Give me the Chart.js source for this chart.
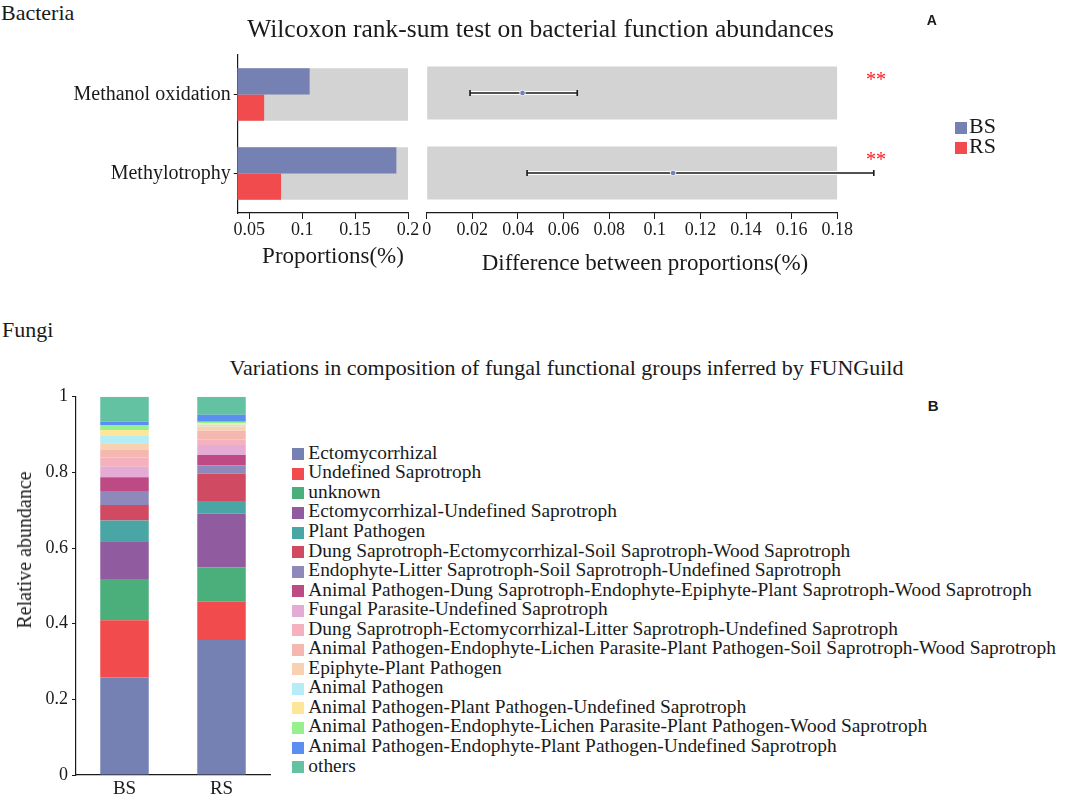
<!DOCTYPE html>
<html>
<head>
<meta charset="utf-8">
<script src="https://cdn.jsdelivr.net/npm/chart.js@4.4.1/dist/chart.umd.min.js"></script>
<style>
  body { margin: 0; background: #fff; }
  #page { position: relative; width: 1084px; height: 795px; overflow: hidden;
          font-family: "Liberation Serif", "Times New Roman", serif; color: #1a1a1a; }
  .box { position: absolute; }
  .t { position: absolute; white-space: nowrap; }
  .sq { position: absolute; width: 12px; height: 12px; box-sizing: border-box; }
</style>
</head>
<body>
<div id="page">
  <div class="box" style="left:0;top:40px;width:420px;height:230px"><canvas id="propChart"></canvas></div>
  <div class="box" style="left:420px;top:40px;width:480px;height:230px"><canvas id="diffChart"></canvas></div>
  <div class="box" style="left:0;top:380px;width:290px;height:415px"><canvas id="guildChart"></canvas></div>
</div>
<script>
// bacteria: STAMP style comparison
const functions = ['Methanol oxidation', 'Methylotrophy'];
const samples = ['BS', 'RS'];
const sampleColors = ['#7580b3', '#f24b4d'];
const propBS = [0.107, 0.189];
const propRS = [0.064, 0.080];
const propTicks = [0.05, 0.1, 0.15, 0.2];
const diffMean = [0.042, 0.108];
const diffLow = [0.019, 0.044];
const diffHigh = [0.066, 0.196];
const diffTicks = [0, 0.02, 0.04, 0.06, 0.08, 0.1, 0.12, 0.14, 0.16, 0.18];
const sigMarks = ['**', '**'];

// fungi: FUNGuild groups
const guilds = [
  'Ectomycorrhizal',
  'Undefined Saprotroph',
  'unknown',
  'Ectomycorrhizal-Undefined Saprotroph',
  'Plant Pathogen',
  'Dung Saprotroph-Ectomycorrhizal-Soil Saprotroph-Wood Saprotroph',
  'Endophyte-Litter Saprotroph-Soil Saprotroph-Undefined Saprotroph',
  'Animal Pathogen-Dung Saprotroph-Endophyte-Epiphyte-Plant Saprotroph-Wood Saprotroph',
  'Fungal Parasite-Undefined Saprotroph',
  'Dung Saprotroph-Ectomycorrhizal-Litter Saprotroph-Undefined Saprotroph',
  'Animal Pathogen-Endophyte-Lichen Parasite-Plant Pathogen-Soil Saprotroph-Wood Saprotroph',
  'Epiphyte-Plant Pathogen',
  'Animal Pathogen',
  'Animal Pathogen-Plant Pathogen-Undefined Saprotroph',
  'Animal Pathogen-Endophyte-Lichen Parasite-Plant Pathogen-Wood Saprotroph',
  'Animal Pathogen-Endophyte-Plant Pathogen-Undefined Saprotroph',
  'others'
];
const guildColors = ['#7580b3', '#f24b4d', '#4aaf7b', '#905b9f', '#4aa5a5', '#d04b62', '#8e88bb',
  '#bd4a85', '#e4acd5', '#f5b1bd', '#f5b8b0', '#f8d2b0', '#b6ecf5', '#fde59a', '#95f08e', '#5a8ef0', '#63c2a2'];
const guildBS = [0.258, 0.151, 0.109, 0.100, 0.055, 0.041, 0.037, 0.036, 0.028, 0.024, 0.020, 0.018, 0.019, 0.016, 0.013, 0.009, 0.066];
const guildRS = [0.357, 0.101, 0.091, 0.142, 0.033, 0.072, 0.022, 0.028, 0.026, 0.015, 0.023, 0.011, 0.005, 0.004, 0.004, 0.018, 0.048];
const abundTicks = [0, 0.2, 0.4, 0.6, 0.8, 1];

Chart.defaults.font.family = '"Liberation Serif", "Times New Roman", serif';
Chart.defaults.color = '#1a1a1a';

const page = document.getElementById('page');
const ink = '#1a1a1a';

// text placed by its baseline
function txt(s, x, base, fs, o = {}) {
  const d = document.createElement('div');
  d.className = 't';
  d.textContent = s;
  const sans = o.sans;
  d.style.fontSize = fs + 'px';
  d.style.lineHeight = fs + 'px';
  if (sans) d.style.fontFamily = '"Liberation Sans", Arial, sans-serif';
  if (o.bold) d.style.fontWeight = 'bold';
  if (o.color) d.style.color = o.color;
  d.style.top = (base - (sans ? 0.8465 : 0.8375) * fs) + 'px';
  d.style.left = x + 'px';
  if (o.center) d.style.transform = 'translateX(-50%)';
  page.appendChild(d);
  return d;
}
function square(x, y, color) {
  const d = document.createElement('div');
  d.className = 'sq';
  d.style.left = x + 'px';
  d.style.top = y + 'px';
  d.style.background = color;
  page.appendChild(d);
}

txt('Bacteria', 1, 20, 22);
txt('Wilcoxon rank-sum test on bacterial function abundances', 540.5, 37, 25.5, { center: true });
txt('A', 926.7, 25, 14, { sans: true, bold: true });
txt('Proportions(%)', 333, 263.3, 23, { center: true });
txt('Difference between proportions(%)', 645, 270.7, 23, { center: true });
sigMarks.forEach((m, i) => txt(m, 866, 85.3 + i * 80, 20, { color: '#ff1a1a' }));
samples.forEach((s, i) => {
  square(954.5, 122 + i * 20.3, sampleColors[i]);
  txt(s, 969, 133.3 + i * 20, 22);
});

txt('Fungi', 2, 337, 22);
txt('Variations in composition of fungal functional groups inferred by FUNGuild', 566.5, 375, 22, { center: true });
txt('B', 927.7, 410.7, 15, { sans: true, bold: true });
const yTitle = txt('Relative abundance', 24, 550, 20);
yTitle.style.top = '540px';
yTitle.style.transform = 'translate(-50%, 0) rotate(-90deg)';
guilds.forEach((g, i) => {
  const base = 459 + i * 19.55;
  square(292.3, base - 10.7, guildColors[i]);
  txt(g, 308.3, base, 19.4);
});

const axisLine = { color: ink, width: 1.2 };

new Chart(document.getElementById('propChart'), {
  type: 'bar',
  data: {
    labels: functions,
    datasets: [
      { label: samples[0], data: propBS, backgroundColor: sampleColors[0], order: 1, categoryPercentage: 0.6625, barPercentage: 1 },
      { label: samples[1], data: propRS, backgroundColor: sampleColors[1], order: 1, categoryPercentage: 0.6625, barPercentage: 1 },
      { label: 'range', data: functions.map(() => propTicks[propTicks.length - 1]), backgroundColor: '#d3d3d3',
        grouped: false, order: 2, categoryPercentage: 0.6625, barPercentage: 1 }
    ]
  },
  options: {
    indexAxis: 'y',
    responsive: true,
    maintainAspectRatio: false,
    animation: false,
    layout: { padding: { top: 13, right: 12 } },
    plugins: { legend: { display: false }, tooltip: { enabled: false } },
    scales: {
      x: {
        min: 0.039, max: 0.2,
        afterBuildTicks: s => { s.ticks = propTicks.map(v => ({ value: v })); },
        ticks: { font: { size: 18 }, color: ink, padding: 0, maxRotation: 0, callback: v => String(v) },
        grid: { drawOnChartArea: false, tickLength: 6, color: ink },
        border: axisLine,
        afterFit: s => { s.height = 57; }
      },
      y: {
        z: 1,
        ticks: { font: { size: 20 }, color: ink, padding: 3 },
        grid: { drawOnChartArea: false, tickLength: 4, color: ink, offset: false },
        border: axisLine,
        afterFit: s => { s.width = 237.7; }
      }
    }
  }
});

// confidence intervals, drawn right after the grey range bars
const errorBars = {
  id: 'errorBars',
  afterDatasetDraw(chart, args) {
    if (args.meta.type !== 'bar') return;
    const { ctx, scales: { x, y } } = chart;
    ctx.save();
    functions.forEach((f, i) => {
      const py = y.getPixelForValue(i);
      const x0 = x.getPixelForValue(diffLow[i]);
      const x1 = x.getPixelForValue(diffHigh[i]);
      ctx.strokeStyle = '#fff';
      ctx.lineWidth = 4;
      ctx.beginPath(); ctx.moveTo(x0, py); ctx.lineTo(x1, py); ctx.stroke();
      ctx.strokeStyle = ink;
      ctx.lineWidth = 1.6;
      ctx.beginPath();
      ctx.moveTo(x0, py); ctx.lineTo(x1, py);
      ctx.moveTo(x0, py - 3); ctx.lineTo(x0, py + 3);
      ctx.moveTo(x1, py - 3); ctx.lineTo(x1, py + 3);
      ctx.stroke();
    });
    ctx.restore();
  }
};

new Chart(document.getElementById('diffChart'), {
  type: 'bar',
  data: {
    labels: functions,
    datasets: [
      { type: 'line', label: 'mean', data: functions.map((f, i) => ({ x: diffMean[i], y: f })), showLine: false,
        pointRadius: 2.8, pointBackgroundColor: '#7580b3', pointBorderColor: '#fff', pointBorderWidth: 0.8, order: 1 },
      { label: 'range', data: functions.map(() => diffTicks[diffTicks.length - 1]), backgroundColor: '#d3d3d3',
        order: 2, categoryPercentage: 0.6625, barPercentage: 1 }
    ]
  },
  options: {
    indexAxis: 'y',
    responsive: true,
    maintainAspectRatio: false,
    animation: false,
    layout: { padding: { top: 13, left: 6.7, right: 62.7 } },
    plugins: { legend: { display: false }, tooltip: { enabled: false } },
    scales: {
      x: {
        type: 'linear', min: 0, max: 0.18,
        afterBuildTicks: s => { s.ticks = diffTicks.map(v => ({ value: v })); },
        ticks: { font: { size: 18 }, color: ink, padding: 0, maxRotation: 0, autoSkip: false, callback: v => String(v) },
        grid: { drawOnChartArea: false, tickLength: 6, color: ink },
        border: axisLine,
        afterFit: s => { s.height = 57; }
      },
      y: { type: 'category', display: false }
    }
  },
  plugins: [errorBars]
});

new Chart(document.getElementById('guildChart'), {
  type: 'bar',
  data: {
    labels: samples,
    datasets: guilds.map((g, i) => ({
      label: g,
      data: [guildBS[i], guildRS[i]],
      backgroundColor: guildColors[i],
      barPercentage: 0.5,
      categoryPercentage: 1
    }))
  },
  options: {
    responsive: true,
    maintainAspectRatio: false,
    animation: false,
    layout: { padding: { top: 16.7, right: 20 } },
    plugins: { legend: { display: false }, tooltip: { enabled: false } },
    scales: {
      x: {
        stacked: true,
        grid: { display: false, drawTicks: false },
        border: axisLine,
        ticks: { font: { size: 19 }, color: ink, padding: 3 },
        afterFit: s => { s.height = 20; }
      },
      y: {
        stacked: true, min: 0, max: 1, z: 1,
        afterBuildTicks: s => { s.ticks = abundTicks.map(v => ({ value: v })); },
        ticks: { font: { size: 18 }, color: ink, padding: 4, callback: v => String(v) },
        grid: { drawOnChartArea: false, tickLength: 4, color: ink },
        border: axisLine,
        afterFit: s => { s.width = 76; }
      }
    }
  }
});
</script>
</body>
</html>
